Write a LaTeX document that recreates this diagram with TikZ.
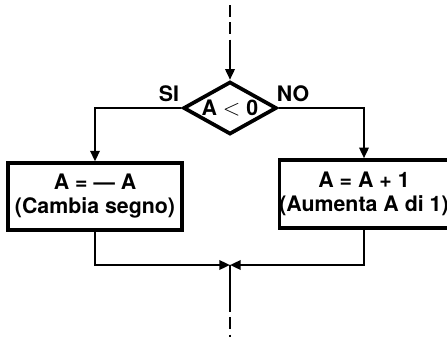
\documentclass[tikz,border=0pt]{standalone}
\usepackage{fontspec}
\setmainfont{TeX Gyre Heros}
\usetikzlibrary{shapes.geometric,arrows.meta}
\begin{document}
\begin{tikzpicture}[x=0.75pt,y=-0.75pt,
  txt/.style={font=\fontsize{16}{18}\selectfont\bfseries},
  box/.style={draw,line width=2.6pt,txt,align=center,inner sep=0pt},
  dia/.style={diamond,draw,line width=2.8pt,txt,inner sep=0pt,aspect=1.77,minimum width=70pt,minimum height=39.5pt},
  conn/.style={line width=1.7pt},
  arr/.style={conn,-{Triangle[width=7pt,length=8pt]}},
  dashline/.style={conn,dash pattern=on 9pt off 4pt}]
\useasboundingbox (0,0) rectangle (447,337);
\node[dia] (d) at (230,108) {A $<$ 0};
\node[box,minimum width=130.5pt,minimum height=50pt] (l) at (95,196.5) {A = --- A\\(Cambia segno)};
\node[box,minimum width=123pt,minimum height=51pt] (r) at (364,194) {A = A + 1\\(Aumenta A di 1)};
\node[txt,anchor=south] (si) at (169,106) {SI};
\node[txt,anchor=south] (no) at (293,106) {NO};
\coordinate (t0) at (230,5);
\coordinate (t1) at (230,50);
\coordinate (m) at (230,265);
\coordinate (b1) at (230,300);
\coordinate (b2) at (230,337);
\draw[dashline] (t0) -- (t1);
\draw[arr] (t1) -- (d.north);
\draw[arr] (d.west) -| (l.north);
\draw[arr] (d.east) -| (r.north);
\draw[arr] (l.south) |- (m);
\draw[arr] (r.south) |- (m);
\draw[conn] (m) -- (b1);
\draw[dashline] (b1) -- (b2);
\end{tikzpicture}
\end{document}
